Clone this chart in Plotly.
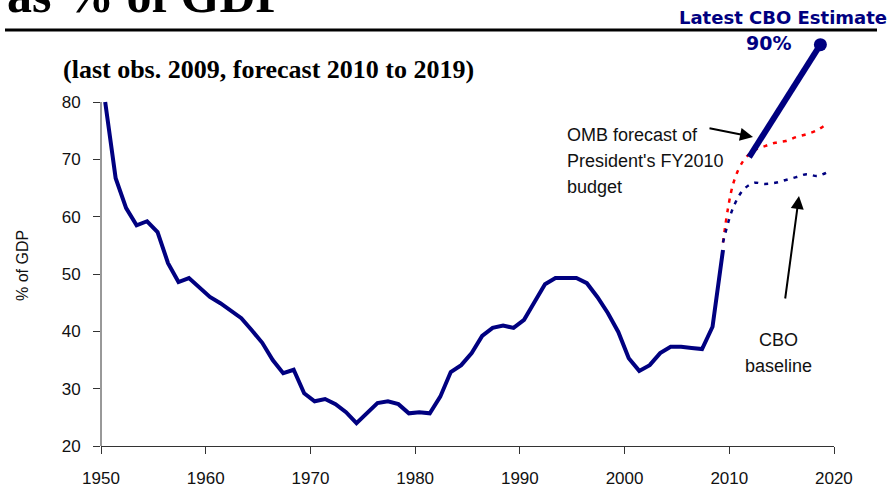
import plotly.graph_objects as go

# ---------------- data ----------------
years = list(range(1950, 2010))
debt_pct_gdp = [80.0, 66.7, 61.5, 58.5, 59.2, 57.3, 51.9, 48.6, 49.3, 47.7,
                46.0, 44.9, 43.5, 42.3, 40.2, 38.0, 35.0, 32.7, 33.3, 29.2,
                27.8, 28.2, 27.3, 25.9, 24.0, 25.8, 27.5, 27.8, 27.3, 25.7,
                25.9, 25.7, 28.6, 32.9, 34.1, 36.2, 39.2, 40.6, 41.0, 40.6,
                42.0, 45.1, 48.2, 49.3, 49.3, 49.3, 48.4, 46.0, 43.2, 39.9,
                35.3, 33.1, 34.1, 36.2, 37.3, 37.3, 37.1, 36.9, 40.8, 54.2]

forecast_years = list(range(2009, 2020))
omb_forecast = [55.5, 65.9, 69.9, 71.6, 72.3, 72.9, 73.2, 73.9, 74.4, 75.1, 76.3]
cbo_baseline = [55.5, 61.7, 64.8, 65.9, 65.7, 65.9, 66.4, 66.9, 67.4, 67.1, 67.8]

latest_cbo_years = [2011.5, 2018.3]
latest_cbo_values = [70.4, 90.0]

x_ticks = [1950, 1960, 1970, 1980, 1990, 2000, 2010, 2020]
y_ticks = [20, 30, 40, 50, 60, 70, 80]

MID = 0.4  # fiscal-year points sit just inside each year

NAVY = "#000080"
W, H = 896, 491
L, R, T, B = 101, 62, 16, 45
PW, PH = W - L - R, H - T - B


def px(xp):
    return (xp - L) / PW


def py(yp):
    return (H - B - yp) / PH


fig = go.Figure()

fig.add_trace(go.Scatter(
    x=[y + MID for y in forecast_years], y=omb_forecast, mode="lines",
    line=dict(color="#ff0000", width=2.5, dash="4px,6px", shape="spline"),
    hoverinfo="skip"))
fig.add_trace(go.Scatter(
    x=[y + MID for y in forecast_years], y=cbo_baseline, mode="lines",
    line=dict(color=NAVY, width=2.5, dash="4px,6px", shape="spline"),
    hoverinfo="skip"))
fig.add_trace(go.Scatter(
    x=[y + MID for y in years], y=debt_pct_gdp, mode="lines",
    line=dict(color=NAVY, width=4), hoverinfo="skip"))
fig.add_trace(go.Scatter(
    x=[y + MID for y in latest_cbo_years], y=latest_cbo_values, mode="lines",
    line=dict(color=NAVY, width=6), hoverinfo="skip"))
fig.add_trace(go.Scatter(
    x=[latest_cbo_years[-1] + MID], y=[latest_cbo_values[-1]], mode="markers",
    marker=dict(color=NAVY, size=13, opacity=1, line=dict(width=0)),
    hoverinfo="skip"))

tick_font = dict(family="Liberation Sans, Arial, sans-serif", size=17, color="#111")

fig.update_layout(
    width=W, height=H,
    margin=dict(l=L, r=R, t=T, b=B, pad=0, autoexpand=False),
    paper_bgcolor="white", plot_bgcolor="white",
    showlegend=False,
    xaxis=dict(range=[1950, 2020], tickvals=x_ticks,
               ticktext=[str(v) if v != 2020 else "" for v in x_ticks],
               ticks="outside", ticklen=7, tickcolor="#333", tickwidth=1,
               showline=True, linecolor="#333", linewidth=1,
               showgrid=False, zeroline=False, tickfont=tick_font,
               ticklabelstandoff=10, automargin=False),
    yaxis=dict(range=[20, 95], tickvals=y_ticks,
               ticks="outside", ticklen=7, tickcolor="#333", tickwidth=1,
               showline=False, showgrid=False, zeroline=False,
               tickfont=tick_font, ticklabelstandoff=9, automargin=False),
)

# y axis line only from 20 to 80
fig.add_shape(type="line", xref="paper", yref="y", x0=0, x1=0, y0=20, y1=80,
              line=dict(color="#333", width=1))
# rule under the title
fig.add_shape(type="line", xref="paper", yref="paper",
              x0=px(5), x1=px(877), y0=py(30), y1=py(30),
              line=dict(color="black", width=3))

ann = []
ann.append(dict(text="<b>as % of GDP</b>", x=px(5), y=py(25), xref="paper", yref="paper",
                xanchor="left", yanchor="bottom", showarrow=False,
                font=dict(family="Liberation Serif, Times New Roman, serif", size=50, color="black")))
ann.append(dict(text="<b>(last obs. 2009, forecast 2010 to 2019)</b>", x=px(61), y=py(69),
                xref="paper", yref="paper", xanchor="left", yanchor="middle", showarrow=False,
                font=dict(family="Liberation Serif, Times New Roman, serif", size=26, color="black")))
ann.append(dict(text="<b>Latest CBO Estimate</b>", x=px(783), y=py(17), xref="paper", yref="paper",
                xanchor="center", yanchor="middle", showarrow=False,
                font=dict(family="DejaVu Sans, Verdana, sans-serif", size=18, color=NAVY)))
ann.append(dict(text="<b>90%</b>", x=px(768), y=py(43), xref="paper", yref="paper",
                xanchor="center", yanchor="middle", showarrow=False,
                font=dict(family="DejaVu Sans, Verdana, sans-serif", size=19, color=NAVY)))
ann.append(dict(text="% of GDP", x=px(22), y=py(266), xref="paper", yref="paper",
                xanchor="center", yanchor="middle", showarrow=False, textangle=-90,
                font=dict(family="Liberation Sans, Arial, sans-serif", size=16, color="#111")))
ann.append(dict(text="2020", x=2020, y=py(478), xref="x", yref="paper",
                xanchor="center", yanchor="middle", showarrow=False, font=tick_font))

label_font = dict(family="Liberation Sans, Arial, sans-serif", size=18, color="#111")
for txt, yy in [("OMB forecast of", 135), ("President's FY2010", 161), ("budget", 187)]:
    ann.append(dict(text=txt, x=px(565), y=py(yy), xref="paper", yref="paper",
                    xanchor="left", yanchor="middle", showarrow=False, font=label_font))
for txt, yy in [("CBO", 340), ("baseline", 366)]:
    ann.append(dict(text=txt, x=px(778), y=py(yy), xref="paper", yref="paper",
                    xanchor="center", yanchor="middle", showarrow=False, font=label_font))

# arrows
ann.append(dict(text="", x=px(753), y=py(137), xref="paper", yref="paper",
                ax=-45, ay=-9, showarrow=True, arrowhead=2, arrowsize=1.3,
                arrowwidth=2, arrowcolor="black"))
ann.append(dict(text="", x=px(799), y=py(196), xref="paper", yref="paper",
                ax=-14, ay=104, showarrow=True, arrowhead=2, arrowsize=1.3,
                arrowwidth=2, arrowcolor="black"))

fig.update_layout(annotations=ann)

fig.write_html("out.html", config={"displayModeBar": False},
               post_script="document.body.style.margin='0';document.body.style.overflow='hidden';")
